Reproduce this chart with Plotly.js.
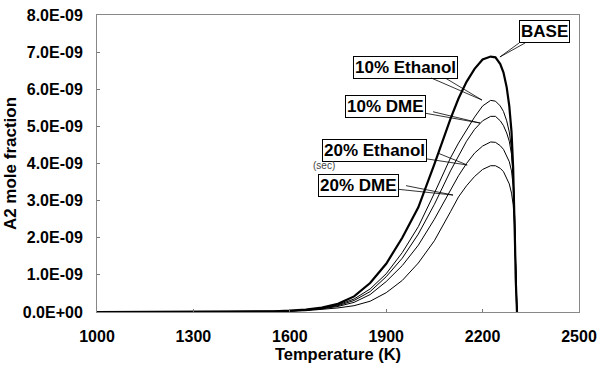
<!DOCTYPE html>
<html><head><meta charset="utf-8">
<script src="https://cdn.plot.ly/plotly-3.0.1.min.js"></script>
<style>html,body{margin:0;padding:0;background:#fff}#c{width:600px;height:367px}</style>
</head><body><div id="c"></div>
<script>
// Temperature grid (K)
const temperature = [1000,1100,1200,1300,1400,1500,1550,1600,1650,1700,1750,1800,1850,1900,1950,2000,2050,2100,2125,2150,2175,2200,2225,2240,2255,2265,2275,2283,2290,2295,2299,2301,2303,2305,2307];
// A2 mole fraction, in units of 1E-09
const base  = [0,0,0,0.001,0.003,0.01,0.02,0.035,0.065,0.12,0.22,0.42,0.78,1.3,2.0,2.82,3.98,5.2,5.75,6.2,6.55,6.8,6.88,6.86,6.68,6.45,6.05,5.55,4.85,3.9,2.84,1.8,0.9,0.3,0];
const eth10 = [0,0,0,0.001,0.003,0.009,0.018,0.03,0.055,0.1,0.19,0.35,0.62,1.03,1.6,2.3,3.2,4.15,4.55,4.9,5.25,5.55,5.7,5.68,5.55,5.4,5.15,4.85,4.4,3.7,2.8,1.8,0.9,0.3,0];
const dme10 = [0,0,0,0.001,0.003,0.008,0.017,0.03,0.05,0.095,0.17,0.31,0.55,0.95,1.45,2.1,2.9,3.8,4.2,4.6,4.92,5.15,5.27,5.27,5.15,5.02,4.82,4.6,4.25,3.65,2.8,1.8,0.9,0.3,0];
const eth20 = [0,0,0,0.001,0.002,0.007,0.014,0.025,0.045,0.085,0.15,0.26,0.47,0.82,1.25,1.8,2.5,3.3,3.67,4.0,4.28,4.47,4.58,4.57,4.48,4.38,4.22,4.05,3.8,3.4,2.7,1.8,0.9,0.3,0];
const dme20 = [0,0,0,0.001,0.002,0.005,0.01,0.02,0.035,0.065,0.11,0.17,0.29,0.52,0.85,1.32,1.92,2.7,3.1,3.4,3.65,3.84,3.94,3.94,3.87,3.78,3.62,3.45,3.2,2.9,2.4,1.7,0.9,0.3,0];
const yTickVals = [0,1,2,3,4,5,6,7,8];
const yTickText = ["0.0E+00","1.0E-09","2.0E-09","3.0E-09","4.0E-09","5.0E-09","6.0E-09","7.0E-09","8.0E-09"];
const xTickVals = [1000,1300,1600,1900,2200,2500];
// callout labels: text, arrow tip (T, value in 1E-09), box offsets (px), second wedge edge offsets
const labels = [
  {text:"BASE",        T:2254, v:6.87, ax:45,  ay:-25, wx:22,  wy:-16},
  {text:"10% Ethanol", T:2198, v:5.71, ax:-76, ay:-33, wx:-40, wy:-24},
  {text:"10% DME",     T:2192, v:5.09, ax:-95, ay:-17, wx:-50, wy:-12},
  {text:"20% Ethanol", T:2152, v:3.96, ax:-93, ay:-14, wx:-32, wy:-13},
  {text:"20% DME",     T:2108, v:3.15, ax:-95, ay:-10, wx:-50, wy:-10}
];
const E = 1e-9;
const sc = a => a.map(v => v*E);
const series = [[base,2.2],[eth10,1],[dme10,1],[eth20,1],[dme20,1]];
const traces = series.map(([d,w]) => ({
  x: temperature, y: sc(d), type:'scatter', mode:'lines',
  line:{color:'#000', width:w}, hoverinfo:'skip'
}));
const fam = '"Liberation Sans", Arial, sans-serif';
const font = {family:fam, color:'#000'};
const annotations = [];
labels.forEach(l => {
  annotations.push({
    x:l.T, y:l.v*E, xref:'x', yref:'y', text:' ', showarrow:true, arrowhead:0,
    arrowwidth:0.8, arrowcolor:'#000', ax:l.wx, ay:l.wy, standoff:0
  });
  annotations.push({
    x:l.T, y:l.v*E, xref:'x', yref:'y', text:'<b>'+l.text+'</b>',
    showarrow:true, arrowhead:0, arrowwidth:0.8, arrowcolor:'#000',
    ax:l.ax, ay:l.ay, bordercolor:'#000', borderwidth:1, borderpad:1, bgcolor:'#fff',
    font:{family:fam, color:'#000', size:17}
  });
});
annotations.push({x:1000+(324-97)/0.3213, y:(312-165.5)/37.1*E, xref:'x', yref:'y', text:'(sec)', showarrow:false,
  font:{family:fam, size:10, color:'#444'}});
const layout = {
  width:600, height:367, showlegend:false,
  margin:{l:97, r:21, t:15, b:55},
  paper_bgcolor:'#fff', plot_bgcolor:'#fff',
  font: font,
  xaxis:{range:[1000,2500], tickvals:xTickVals, ticktext:xTickVals.map(v=>'<b>'+v+'</b>'),
    tickfont:{family:fam, color:'#000', size:16}, ticks:'inside', ticklen:3, tickcolor:'#777',
    ticklabelstandoff:10,
    showline:true, linecolor:'#888', linewidth:1, mirror:true, showgrid:false, zeroline:false,
    title:{text:'<b>Temperature (K)</b>', font:{family:fam, color:'#000', size:16.5}, standoff:2}},
  yaxis:{range:[0,8*E], tickvals:sc(yTickVals), ticktext:yTickText.map(t=>'<b>'+t+'</b>'),
    tickfont:{family:fam, color:'#000', size:16}, ticks:'inside', ticklen:3, tickcolor:'#777',
    ticklabelstandoff:10,
    showline:true, linecolor:'#888', linewidth:1, mirror:true, showgrid:false, zeroline:false,
    title:{text:'<b>A2 mole fraction</b>', font:{family:fam, color:'#000', size:17}, standoff:1}},
  annotations: annotations
};
Plotly.newPlot('c', traces, layout, {displayModeBar:false, staticPlot:true});
</script></body></html>
